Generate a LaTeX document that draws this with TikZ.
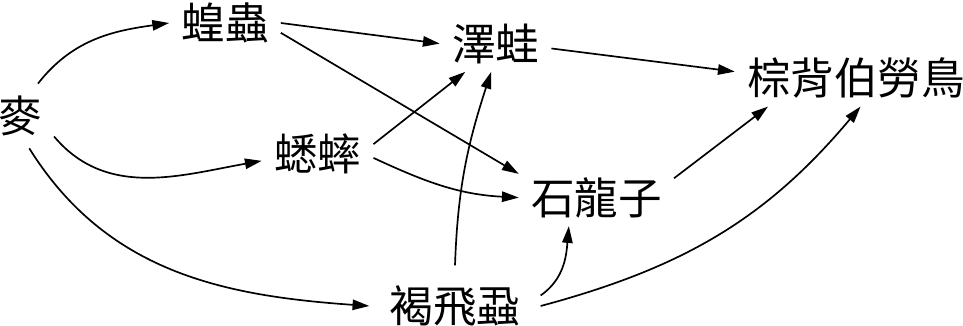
\documentclass[tikz,border=0pt]{standalone}
\usepackage{fontspec}
\newfontfamily\cjk{Noto Sans CJK TC}
\usetikzlibrary{arrows.meta}

\tikzset{
	especie/.style={font=\cjk\fontsize{31pt}{36pt}\selectfont,
		inner xsep=0.3cm, inner ysep=0.2cm},
	come/.style={-{Triangle[length=0.42cm, width=0.26cm]}, line width=1.2pt},
}

\begin{document}
\begin{tikzpicture}
	\useasboundingbox (0,0) rectangle (24.075,8.15);

	% especies
	\node[especie, inner ysep=0.3cm] (mai) at (0.5,5.25) {麥};
	\node[especie] (huang) at (5.625,7.575) {蝗蟲};
	\node[especie] (xi) at (7.94,4.3) {蟋蟀};
	\node[especie] (zewa) at (12.39,7.06) {澤蛙};
	\node[especie] (shi) at (14.91,3.21) {石龍子};
	\node[especie, inner xsep=0.5cm, inner ysep=0.5cm] (hefei) at (11.375,0.5) {褐飛蝨};
	\node[especie] (bolao) at (21.4,6.2) {棕背伯勞鳥};

	% quien come a quien
	\draw[come] (mai.61) to[out=52,in=188] (huang.west);
	\draw[come] (mai.-31) to[out=-50,in=190] (xi.187);
	\draw[come] (mai.-74) to[out=-58,in=176] (hefei.west);
	\draw[come] (huang.east) -- (zewa.west);
	\draw[come] (huang.-10) -- (shi.163);
	\draw[come] (xi.10) -- (zewa.223);
	\draw[come] (xi.-4) to[out=-25,in=177] (shi.west);
	\draw[come] (hefei.north) to[out=88,in=252] (zewa.261);
	\draw[come] (hefei.7) to[out=35,in=265] (shi.226);
	\draw[come] (hefei.east) to[out=15,in=230] (bolao.279);
	\draw[come] (zewa.-5) -- (bolao.177);
	\draw[come] (shi.14) -- (bolao.198);
\end{tikzpicture}
\end{document}
